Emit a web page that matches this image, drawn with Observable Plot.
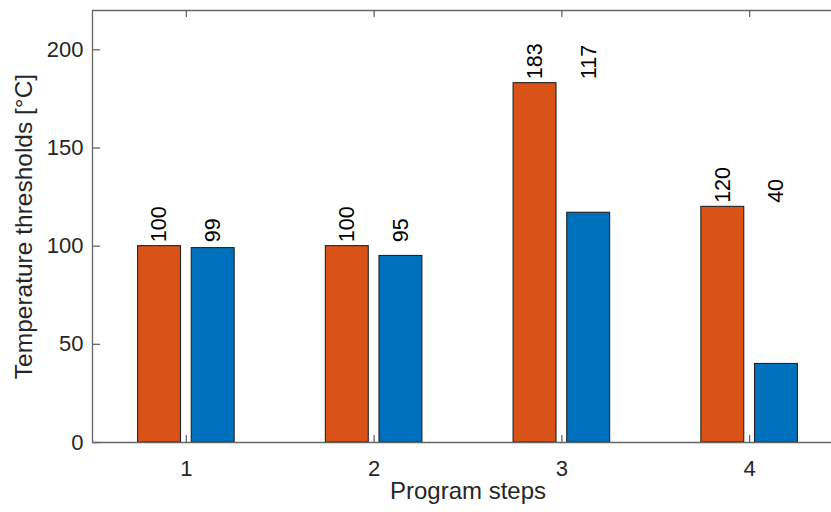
<!DOCTYPE html>
<html>
<head>
<meta charset="utf-8">
<script src="https://cdn.jsdelivr.net/npm/d3@7"></script>
<script src="https://cdn.jsdelivr.net/npm/@observablehq/plot@0.6"></script>
<style>
  html, body { margin: 0; padding: 0; background: #fff; overflow: hidden; }
  #chart svg { overflow: hidden; display: block; }
</style>
</head>
<body>
<div id="chart"></div>
<script>
// ---- data ----
const steps = [1, 2, 3, 4];
const seriesNames = ["Threshold A", "Threshold B"];
const seriesA = [100, 100, 183, 120];
const seriesB = [99, 95, 117, 40];
const colors = ["#D95319", "#0072BD"];
const yTicks = [0, 50, 100, 150, 200];
const xTicks = [1, 2, 3, 4];
const xLabel = "Program steps";
const yLabel = "Temperature thresholds [°C]";

// ---- layout (MATLAB grouped bar geometry) ----
const W = 831, H = 512;
const mL = 92, mT = 10, mB = 70, mR = 0;
const xDomain = [0.5, 4.5];
const xRange = [92, 843];
const yDomain = [0, 220];
const groupWidth = 2 / 3.5;           // min(0.8, n/(n+1.5))
const barW = groupWidth / 2 * 0.8;
const offsets = [-groupWidth / 4, groupWidth / 4];

const bars = [];
const labels = [];
steps.forEach((s, i) => {
  const vals = [seriesA[i], seriesB[i]];
  const top = Math.max(...vals);
  vals.forEach((v, k) => {
    const c = s + offsets[k];
    bars.push({step: s, series: seriesNames[k], value: v, x1: c - barW / 2, x2: c + barW / 2});
    labels.push({x: c, y: top, text: String(v)});
  });
});

const plotW = W - mL - mR, plotH = H - mT - mB;
const axisColor = "#666";
const font = "'Liberation Sans', Arial, Helvetica, sans-serif";

const chart = Plot.plot({
  width: W, height: H,
  marginLeft: mL, marginRight: mR, marginTop: mT, marginBottom: mB,
  style: {fontFamily: font, fontSize: "21px", background: "#fff", color: "#262626"},
  x: {type: "linear", domain: xDomain, range: xRange, axis: null},
  y: {domain: yDomain, axis: null},
  color: {domain: seriesNames, range: colors},
  marks: [
    Plot.rectY(bars, {x1: "x1", x2: "x2", y1: 0, y2: "value", fill: "series", stroke: "#222", strokeWidth: 1.1}),
    Plot.ruleY([yDomain[0], yDomain[1]], {stroke: axisColor, strokeWidth: 1.3}),
    Plot.ruleX([xDomain[0]], {stroke: axisColor, strokeWidth: 1.3}),
    Plot.tickY(yTicks, {y: d => d, insetRight: plotW - 8, stroke: axisColor, strokeWidth: 1.3}),
    Plot.tickX(xTicks, {x: d => d, insetTop: plotH - 7, stroke: axisColor, strokeWidth: 1.3}),
    Plot.tickX(xTicks, {x: d => d, insetBottom: plotH - 7, stroke: axisColor, strokeWidth: 1.3}),
    Plot.axisY(yTicks, {tickSize: 0, tickPadding: 9, fontSize: 22, label: null, fill: "#262626", tickFormat: d => String(d)}),
    Plot.axisX(xTicks, {tickSize: 0, tickPadding: 18, fontSize: 22, label: null, fill: "#262626", tickFormat: d => String(d)}),
    Plot.text(labels, {x: "x", y: "y", text: "text", rotate: -90, textAnchor: "start", dy: -4, fontSize: 21.5, fill: "#000"}),
    Plot.text([xLabel], {x: () => (xDomain[0] + xDomain[1]) / 2, frameAnchor: "bottom", lineAnchor: "middle", textAnchor: "middle", dy: 49, text: d => d, fontSize: 24, fill: "#262626"}),
    Plot.text([yLabel], {frameAnchor: "left", textAnchor: "middle", lineAnchor: "middle", dx: -68, rotate: -90, text: d => d, fontSize: 24.5, fill: "#262626"})
  ]
});
document.getElementById("chart").appendChild(chart);
</script>
</body>
</html>
